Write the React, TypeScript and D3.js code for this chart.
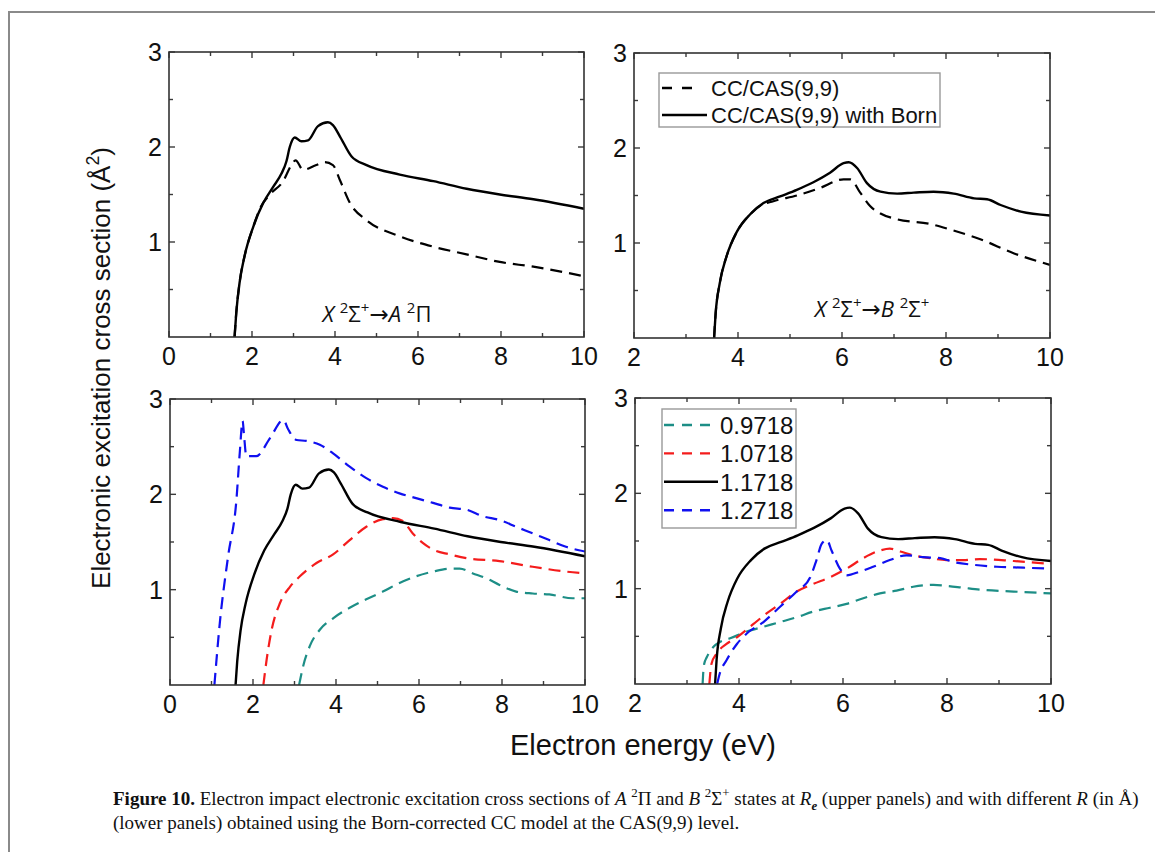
import { useEffect, useRef } from "react";
import * as d3 from "d3";

// ---- data (energy in eV, cross section in Å^2) ----
// upper left: X -> A 2Pi at Re
const aBornE = [1.58, 1.62, 1.7, 1.82, 2.03, 2.27, 2.51, 2.71, 2.83, 2.91, 3.03, 3.19, 3.35, 3.59, 3.83, 3.95, 4.12, 4.4, 4.76, 5.56, 6.37, 7.17, 7.97, 8.78, 10];
const aBornS = [0, 0.25, 0.57, 0.85, 1.16, 1.41, 1.58, 1.72, 1.85, 2.0, 2.1, 2.06, 2.07, 2.22, 2.26, 2.23, 2.11, 1.9, 1.81, 1.71, 1.64, 1.56, 1.5, 1.45, 1.35];
const aCCE = [1.58, 1.62, 1.7, 1.82, 2.03, 2.2, 2.43, 2.75, 2.95, 3.05, 3.23, 3.55, 3.75, 3.95, 4.12, 4.36, 4.76, 5.56, 6.37, 7.17, 7.97, 8.78, 10];
const aCCS = [0, 0.25, 0.57, 0.85, 1.16, 1.36, 1.5, 1.64, 1.81, 1.86, 1.76, 1.81, 1.84, 1.81, 1.65, 1.41, 1.23, 1.06, 0.95, 0.87, 0.79, 0.74, 0.64];

// upper right: X -> B 2Sigma+ at Re
const bBornE = [3.54, 3.57, 3.65, 3.78, 3.97, 4.23, 4.49, 4.81, 5.13, 5.45, 5.77, 6.03, 6.13, 6.29, 6.48, 6.74, 7.06, 7.38, 7.76, 8.15, 8.54, 8.79, 9.05, 9.44, 10];
const bBornS = [0, 0.26, 0.58, 0.86, 1.11, 1.3, 1.42, 1.49, 1.56, 1.64, 1.74, 1.84, 1.85, 1.79, 1.63, 1.54, 1.52, 1.53, 1.54, 1.52, 1.47, 1.46, 1.4, 1.33, 1.29];
const bCCE = [3.54, 3.57, 3.65, 3.78, 3.97, 4.23, 4.42, 4.68, 5.13, 5.58, 6.03, 6.16, 6.35, 6.54, 6.74, 7.06, 7.7, 8.09, 8.66, 9.31, 10];
const bCCS = [0, 0.26, 0.58, 0.86, 1.11, 1.3, 1.39, 1.44, 1.5, 1.58, 1.67, 1.67, 1.53, 1.39, 1.31, 1.25, 1.2, 1.14, 1.04, 0.89, 0.77];

// lower left: A 2Pi for different R (1.1718 is the Born curve above)
const aR0972E = [3.11, 3.21, 3.37, 3.61, 3.93, 4.33, 4.73, 5.13, 5.53, 5.93, 6.34, 6.74, 6.98, 7.3, 7.62, 7.94, 8.34, 8.74, 9.14, 9.7, 10];
const aR0972S = [0, 0.2, 0.41, 0.58, 0.7, 0.81, 0.9, 0.98, 1.07, 1.14, 1.19, 1.22, 1.22, 1.17, 1.12, 1.05, 0.98, 0.96, 0.95, 0.91, 0.91];
const aR1072E = [2.25, 2.33, 2.45, 2.65, 2.89, 3.13, 3.53, 3.93, 4.33, 4.73, 5.13, 5.37, 5.61, 5.85, 6.09, 6.34, 6.74, 7.14, 7.94, 8.74, 9.54, 10];
const aR1072S = [0, 0.27, 0.58, 0.86, 1.03, 1.14, 1.28, 1.37, 1.52, 1.66, 1.74, 1.75, 1.72, 1.59, 1.49, 1.42, 1.37, 1.33, 1.3, 1.24, 1.19, 1.17];
const aR1272E = [1.07, 1.2, 1.4, 1.6, 1.68, 1.75, 1.78, 1.84, 2.08, 2.41, 2.73, 2.85, 3.05, 3.29, 3.61, 3.93, 4.33, 4.73, 5.13, 5.53, 5.93, 6.34, 6.74, 7.14, 7.54, 7.94, 8.34, 8.74, 9.14, 9.54, 10];
const aR1272S = [0, 0.65, 1.35, 1.94, 2.43, 2.77, 2.64, 2.4, 2.4, 2.59, 2.78, 2.68, 2.57, 2.56, 2.52, 2.43, 2.29, 2.17, 2.08, 2.01, 1.96, 1.91, 1.86, 1.84, 1.77, 1.73, 1.66, 1.59, 1.52, 1.45, 1.4];

// lower right: B 2Sigma+ for different R
const bR0972E = [3.3, 3.31, 3.33, 3.38, 3.51, 3.63, 3.83, 4.15, 4.47, 4.79, 5.11, 5.43, 5.75, 6.07, 6.39, 6.71, 7.03, 7.35, 7.74, 7.99, 8.31, 8.63, 9.28, 10];
const bR0972S = [0, 0.1, 0.21, 0.28, 0.39, 0.44, 0.48, 0.55, 0.6, 0.65, 0.7, 0.76, 0.8, 0.84, 0.9, 0.95, 0.98, 1.02, 1.04, 1.03, 1.01, 0.99, 0.97, 0.95];
const bR1072E = [3.43, 3.47, 3.57, 3.76, 3.96, 4.28, 4.53, 4.79, 5.11, 5.43, 5.75, 6.07, 6.39, 6.71, 6.9, 7.1, 7.35, 7.67, 7.99, 8.31, 8.63, 9.28, 10];
const bR1072S = [0, 0.21, 0.32, 0.42, 0.49, 0.63, 0.74, 0.84, 0.97, 1.05, 1.12, 1.21, 1.32, 1.4, 1.42, 1.39, 1.35, 1.32, 1.3, 1.3, 1.31, 1.29, 1.26];
const bR1272E = [3.58, 3.63, 3.76, 3.96, 4.15, 4.47, 4.79, 5.11, 5.37, 5.49, 5.59, 5.69, 5.78, 5.94, 6.07, 6.33, 6.58, 6.9, 7.22, 7.54, 7.87, 8.12, 8.51, 8.96, 9.47, 10];
const bR1272S = [0, 0.11, 0.25, 0.42, 0.53, 0.65, 0.81, 0.97, 1.12, 1.3, 1.47, 1.51, 1.4, 1.21, 1.14, 1.18, 1.23, 1.3, 1.35, 1.33, 1.32, 1.28, 1.25, 1.23, 1.22, 1.21];

const legendTop = ["CC/CAS(9,9)", "CC/CAS(9,9) with Born"];
const legendR = ["0.9718", "1.0718", "1.1718", "1.2718"];
const xTicksA = [0, 2, 4, 6, 8, 10];
const xTicksB = [2, 4, 6, 8, 10];
const yTicks = [1, 2, 3];

const TEAL = "#1d8e86";
const RED = "#f41c1c";
const BLUE = "#1010f0";
const DASH = "12,7";

type Part = [string, string];

function richText(sel: any, parts: Part[]) {
    // sup / sub handled with dy so it works in every renderer
    let shift = 0;
    const base = parseFloat(sel.attr("font-size"));
    parts.forEach(([txt, st]) => {
        const t = sel.append("tspan").text(txt);
        let target = 0;
        if (st.includes("sup")) target = -0.42;
        if (st.includes("sub")) target = 0.25;
        const fs = st.includes("sup") || st.includes("sub") ? 0.68 : 1;
        const dy = (target - shift) * base;
        if (dy !== 0) t.attr("dy", dy);
        shift = target;
        if (fs !== 1) t.attr("font-size", base * fs);
        if (st.includes("i")) t.attr("font-style", "italic");
        if (st.includes("b")) t.attr("font-weight", "bold");
        if (st.includes("arrow")) t.attr("font-family", "DejaVu Sans, sans-serif").attr("font-size", base * 1.05);
    });
}

export default function App() {
    const svgRef = useRef<SVGSVGElement>(null);

    useEffect(() => {
        const svg = d3.select(svgRef.current);
        svg.selectAll("*").remove();

        // figure frame (top + left edges visible)
        svg.append("path")
            .attr("d", "M9,860 L9,12 L1160,12")
            .attr("fill", "none")
            .attr("stroke", "#8a8a8a")
            .attr("stroke-width", 2);

        const panels = [
            { id: "tl", l: 169, r: 584, t: 52, b: 337, x0: 0, ticks: xTicksA },
            { id: "tr", l: 634, r: 1050, t: 53, b: 338, x0: 2, ticks: xTicksB },
            { id: "bl", l: 170, r: 585, t: 399, b: 685, x0: 0, ticks: xTicksA },
            { id: "br", l: 635, r: 1051, t: 398, b: 684, x0: 2, ticks: xTicksB },
        ];

        const made: any = {};
        panels.forEach((p) => {
            const x = d3.scaleLinear().domain([p.x0, 10]).range([p.l, p.r]);
            const y = d3.scaleLinear().domain([0, 3]).range([p.b, p.t]);
            const g = svg.append("g");

            svg.append("clipPath")
                .attr("id", "clip-" + p.id)
                .append("rect")
                .attr("x", p.l)
                .attr("y", p.t)
                .attr("width", p.r - p.l)
                .attr("height", p.b - p.t);

            const curves = g.append("g").attr("clip-path", `url(#clip-${p.id})`);

            // ticks, inward on all four sides
            const minorX = d3.range(p.x0 + 1, 10, 2);
            const minorY = [0.5, 1.5, 2.5];
            const tk = g.append("g").attr("stroke", "#3a3a3a").attr("stroke-width", 1.4);
            [...p.ticks, ...minorX].forEach((v) => {
                const len = p.ticks.includes(v) ? 6 : 4;
                tk.append("line").attr("x1", x(v)).attr("x2", x(v)).attr("y1", p.b).attr("y2", p.b - len);
                tk.append("line").attr("x1", x(v)).attr("x2", x(v)).attr("y1", p.t).attr("y2", p.t + len);
            });
            [...yTicks, ...minorY].forEach((v) => {
                const len = yTicks.includes(v) ? 6 : 4;
                tk.append("line").attr("y1", y(v)).attr("y2", y(v)).attr("x1", p.l).attr("x2", p.l + len);
                tk.append("line").attr("y1", y(v)).attr("y2", y(v)).attr("x1", p.r).attr("x2", p.r - len);
            });

            g.append("rect")
                .attr("x", p.l)
                .attr("y", p.t)
                .attr("width", p.r - p.l)
                .attr("height", p.b - p.t)
                .attr("fill", "none")
                .attr("stroke", "#333")
                .attr("stroke-width", 1.6);

            g.selectAll(".xl")
                .data(p.ticks)
                .enter()
                .append("text")
                .attr("x", (d) => x(d))
                .attr("y", p.b + 28)
                .attr("text-anchor", "middle")
                .attr("font-family", "Liberation Sans, Arial, sans-serif")
                .attr("font-size", 25)
                .attr("fill", "#111")
                .text((d) => d);

            g.selectAll(".yl")
                .data(yTicks)
                .enter()
                .append("text")
                .attr("x", p.l - 7)
                .attr("y", (d) => y(d) + 9)
                .attr("text-anchor", "end")
                .attr("font-family", "Liberation Sans, Arial, sans-serif")
                .attr("font-size", 25)
                .attr("fill", "#111")
                .text((d) => d);

            made[p.id] = { x, y, curves };
        });

        const drawLine = (id: string, es: number[], ss: number[], color: string, dash: string | null, w: number) => {
            const { x, y, curves } = made[id];
            const line = d3
                .line<number>()
                .x((d, i) => x(es[i]))
                .y((d) => y(d))
                .curve(d3.curveMonotoneX);
            const path = curves
                .append("path")
                .datum(ss)
                .attr("d", line)
                .attr("fill", "none")
                .attr("stroke", color)
                .attr("stroke-width", w)
                .attr("stroke-linejoin", "round");
            if (dash) path.attr("stroke-dasharray", dash);
        };

        drawLine("tl", aCCE, aCCS, "#000", DASH, 2.2);
        drawLine("tl", aBornE, aBornS, "#000", null, 2.4);
        drawLine("tr", bCCE, bCCS, "#000", DASH, 2.2);
        drawLine("tr", bBornE, bBornS, "#000", null, 2.4);

        drawLine("bl", aR0972E, aR0972S, TEAL, DASH, 2.2);
        drawLine("bl", aR1072E, aR1072S, RED, DASH, 2.2);
        drawLine("bl", aBornE, aBornS, "#000", null, 2.4);
        drawLine("bl", aR1272E, aR1272S, BLUE, DASH, 2.2);

        drawLine("br", bR0972E, bR0972S, TEAL, DASH, 2.2);
        drawLine("br", bR1072E, bR1072S, RED, DASH, 2.2);
        drawLine("br", bBornE, bBornS, "#000", null, 2.4);
        drawLine("br", bR1272E, bR1272S, BLUE, DASH, 2.2);

        // transition labels
        const lblA = svg.append("text")
            .attr("x", 377)
            .attr("y", 322)
            .attr("text-anchor", "middle")
            .attr("font-family", "Open Sans, Liberation Sans, sans-serif")
            .attr("font-size", 22)
            .attr("fill", "#111");
        richText(lblA, [["X", "i"], [" ", ""], ["2", "sup"], ["Σ", ""], ["+", "sup"], ["→", "arrow"], ["A", "i"], [" ", ""], ["2", "sup"], ["Π", ""]]);

        const lblB = svg.append("text")
            .attr("x", 872)
            .attr("y", 317)
            .attr("text-anchor", "middle")
            .attr("font-family", "Open Sans, Liberation Sans, sans-serif")
            .attr("font-size", 22)
            .attr("fill", "#111");
        richText(lblB, [["X", "i"], [" ", ""], ["2", "sup"], ["Σ", ""], ["+", "sup"], ["→", "arrow"], ["B", "i"], [" ", ""], ["2", "sup"], ["Σ", ""], ["+", "sup"]]);

        // legend, upper right
        const lg1 = svg.append("g");
        lg1.append("rect")
            .attr("x", 659).attr("y", 73).attr("width", 281).attr("height", 54)
            .attr("fill", "#fff").attr("stroke", "#999").attr("stroke-width", 1.4);
        legendTop.forEach((name, i) => {
            const yy = 88 + i * 27;
            const ln = lg1.append("line")
                .attr("x1", 662).attr("x2", 707).attr("y1", yy).attr("y2", yy)
                .attr("stroke", "#000").attr("stroke-width", 2.4);
            if (i === 0) ln.attr("stroke-dasharray", "10,10").attr("x2", 702);
            lg1.append("text")
                .attr("x", 711).attr("y", yy + 8)
                .attr("font-family", "Liberation Sans, Arial, sans-serif")
                .attr("font-size", 22)
                .attr("fill", "#111")
                .text(name);
        });

        // legend, lower right
        const lg2 = svg.append("g");
        lg2.append("rect")
            .attr("x", 662).attr("y", 409).attr("width", 134).attr("height", 119)
            .attr("fill", "#fff").attr("stroke", "#999").attr("stroke-width", 1.4);
        const rColors = [TEAL, RED, "#000", BLUE];
        legendR.forEach((name, i) => {
            const yy = 425 + i * 28.4;
            const ln = lg2.append("line")
                .attr("x1", 664).attr("x2", 718).attr("y1", yy).attr("y2", yy)
                .attr("stroke", rColors[i]).attr("stroke-width", 2.4);
            if (i !== 2) ln.attr("stroke-dasharray", "10,8");
            lg2.append("text")
                .attr("x", 720).attr("y", yy + 9)
                .attr("font-family", "Liberation Sans, Arial, sans-serif")
                .attr("font-size", 24)
                .attr("fill", "#111")
                .text(name);
        });

        // axis titles
        svg.append("text")
            .attr("transform", "translate(110,368) rotate(-90)")
            .attr("text-anchor", "middle")
            .attr("font-family", "Liberation Sans, Arial, sans-serif")
            .attr("font-size", 26)
            .attr("fill", "#111")
            .call((s: any) => richText(s, [["Electronic excitation cross section (Å", ""], ["2", "sup"], [")", ""]]));

        svg.append("text")
            .attr("x", 643)
            .attr("y", 755)
            .attr("text-anchor", "middle")
            .attr("font-family", "Liberation Sans, Arial, sans-serif")
            .attr("font-size", 29)
            .attr("fill", "#111")
            .text("Electron energy (eV)");

        // caption
        const cap1 = svg.append("text")
            .attr("x", 113).attr("y", 805)
            .attr("font-family", "Liberation Serif, Times New Roman, serif")
            .attr("font-size", 19)
            .attr("fill", "#111");
        richText(cap1, [
            ["Figure 10.", "b"],
            [" Electron impact electronic excitation cross sections of ", ""],
            ["A", "i"], [" ", ""], ["2", "sup"], ["Π and ", ""],
            ["B", "i"], [" ", ""], ["2", "sup"], ["Σ", ""], ["+", "sup"],
            [" states at ", ""], ["R", "i"], ["e", "subi"],
            [" (upper panels) and with different ", ""], ["R", "i"], [" (in Å)", ""],
        ]);
        svg.append("text")
            .attr("x", 113).attr("y", 829)
            .attr("font-family", "Liberation Serif, Times New Roman, serif")
            .attr("font-size", 19)
            .attr("fill", "#111")
            .text("(lower panels) obtained using the Born-corrected CC model at the CAS(9,9) level.");
    }, []);

    return (
        <svg
            ref={svgRef}
            width={1155}
            height={852}
            style={{ position: "absolute", left: 0, top: 0, background: "#fff" }}
        />
    );
}
